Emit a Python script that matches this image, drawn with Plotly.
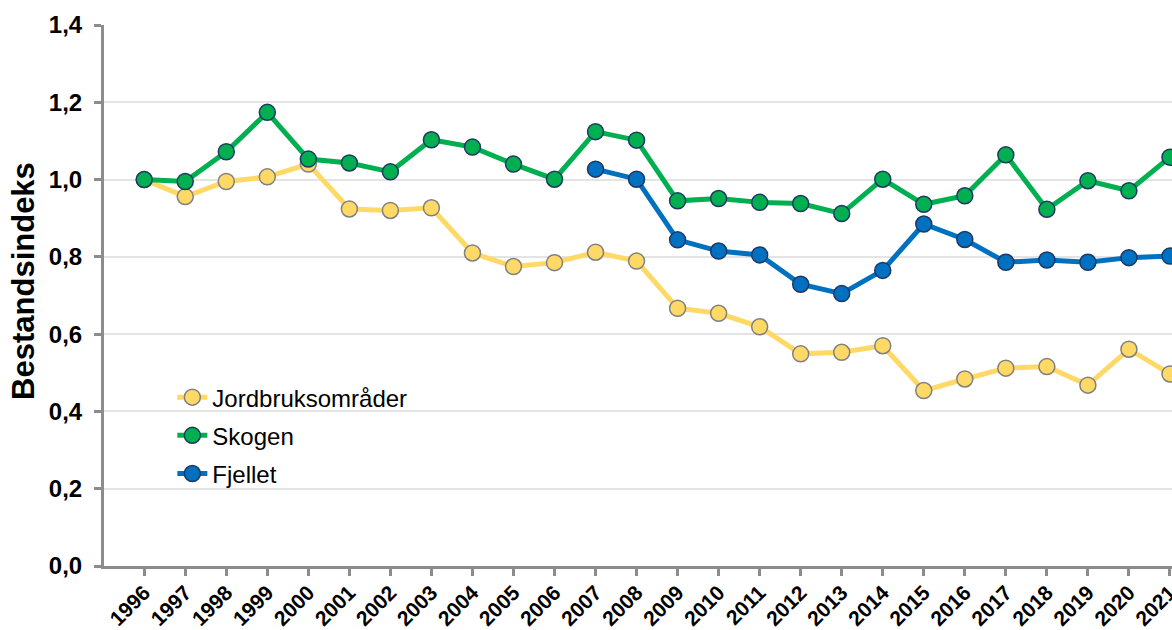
import plotly.graph_objects as go

years = list(range(1996, 2022))

jordbruk = [1.000, 0.956, 0.995, 1.007, 1.040, 0.924, 0.920, 0.927, 0.810, 0.775,
            0.785, 0.812, 0.789, 0.667, 0.654, 0.619, 0.549, 0.553, 0.570, 0.454,
            0.484, 0.512, 0.516, 0.468, 0.561, 0.497]

skogen = [1.000, 0.995, 1.072, 1.174, 1.053, 1.043, 1.020, 1.103, 1.084, 1.040,
          1.001, 1.124, 1.102, 0.945, 0.951, 0.941, 0.938, 0.912, 1.001, 0.936,
          0.958, 1.064, 0.923, 0.997, 0.971, 1.058]

fjellet_years = list(range(2007, 2022))
fjellet = [1.027, 1.001, 0.844, 0.815, 0.805, 0.729, 0.705, 0.765, 0.885, 0.845,
           0.786, 0.792, 0.786, 0.798, 0.802]

y_ticks = [0.0, 0.2, 0.4, 0.6, 0.8, 1.0, 1.2, 1.4]

FONT = "Arial, Liberation Sans, sans-serif"
AXIS_GRAY = "#8c8c8c"

fig = go.Figure()

fig.add_trace(go.Scatter(
    x=years, y=jordbruk, name="Jordbruksområder", mode="lines+markers",
    line=dict(color="#FFD966", width=5),
    marker=dict(size=16, color="#FFD966", line=dict(color="#808080", width=1.5)),
    legendgroup="a",
))
fig.add_trace(go.Scatter(
    x=years, y=skogen, name="Skogen", mode="lines+markers",
    line=dict(color="#00B050", width=5),
    marker=dict(size=16, color="#00B050", line=dict(color="#1F3864", width=1.5)),
    legendgroup="b",
))
fig.add_trace(go.Scatter(
    x=fjellet_years, y=fjellet, name="Fjellet", mode="lines+markers",
    line=dict(color="#0070C0", width=5),
    marker=dict(size=16, color="#0070C0", line=dict(color="#1F3864", width=1.5)),
    legendgroup="c",
))

# white box behind the legend (covers gridlines, below the traces)
fig.add_shape(type="rect", xref="paper", yref="paper",
              x0=0.0084, x1=0.335, y0=0.13, y1=0.40,
              fillcolor="white", line=dict(width=0), layer="between")

# y-axis title
fig.add_annotation(text="<b>Bestandsindeks</b>", textangle=-90,
                   xref="paper", yref="paper", x=-0.0749, y=0.527,
                   xanchor="center", yanchor="middle", showarrow=False,
                   font=dict(family=FONT, size=31, color="black"))

fig.update_layout(
    width=1172, height=630,
    margin=dict(l=104, r=0, t=25, b=64),
    paper_bgcolor="white", plot_bgcolor="white",
    separators=", ",
    font=dict(family=FONT, color="black"),
    showlegend=True,
    legend=dict(
        x=0.064, y=0.353, xanchor="left", yanchor="top",
        bgcolor="rgba(0,0,0,0)", borderwidth=0,
        font=dict(family=FONT, size=24, color="black"),
        traceorder="grouped", tracegroupgap=4,
    ),
    xaxis=dict(
        range=[1995.02, 2021.05],
        tickmode="array", tickvals=years, ticktext=[str(y) for y in years],
        tickangle=-45,
        ticklabeloverflow="allow",
        ticklabelstandoff=-4,
        tickfont=dict(family=FONT, size=21, color="black", weight="bold"),
        showgrid=False, zeroline=False,
        showline=True, linecolor=AXIS_GRAY, linewidth=3,
        ticks="outside", ticklen=7, tickwidth=3, tickcolor=AXIS_GRAY,
        automargin=False,
    ),
    yaxis=dict(
        range=[0, 1.4],
        tickmode="array", tickvals=y_ticks,
        tickformat=".1f",
        tickfont=dict(family=FONT, size=24, color="black", weight="bold"),
        ticklabelstandoff=7,
        showgrid=True, gridcolor="#e4e4e4", gridwidth=1.5,
        zeroline=False,
        showline=True, linecolor=AXIS_GRAY, linewidth=3,
        ticks="outside", ticklen=7, tickwidth=3, tickcolor=AXIS_GRAY,
        automargin=False,
    ),
)

fig.write_html(
    "out.html",
    config={"displayModeBar": False},
    post_script="document.body.style.margin='0';document.body.style.overflow='hidden';",
)
